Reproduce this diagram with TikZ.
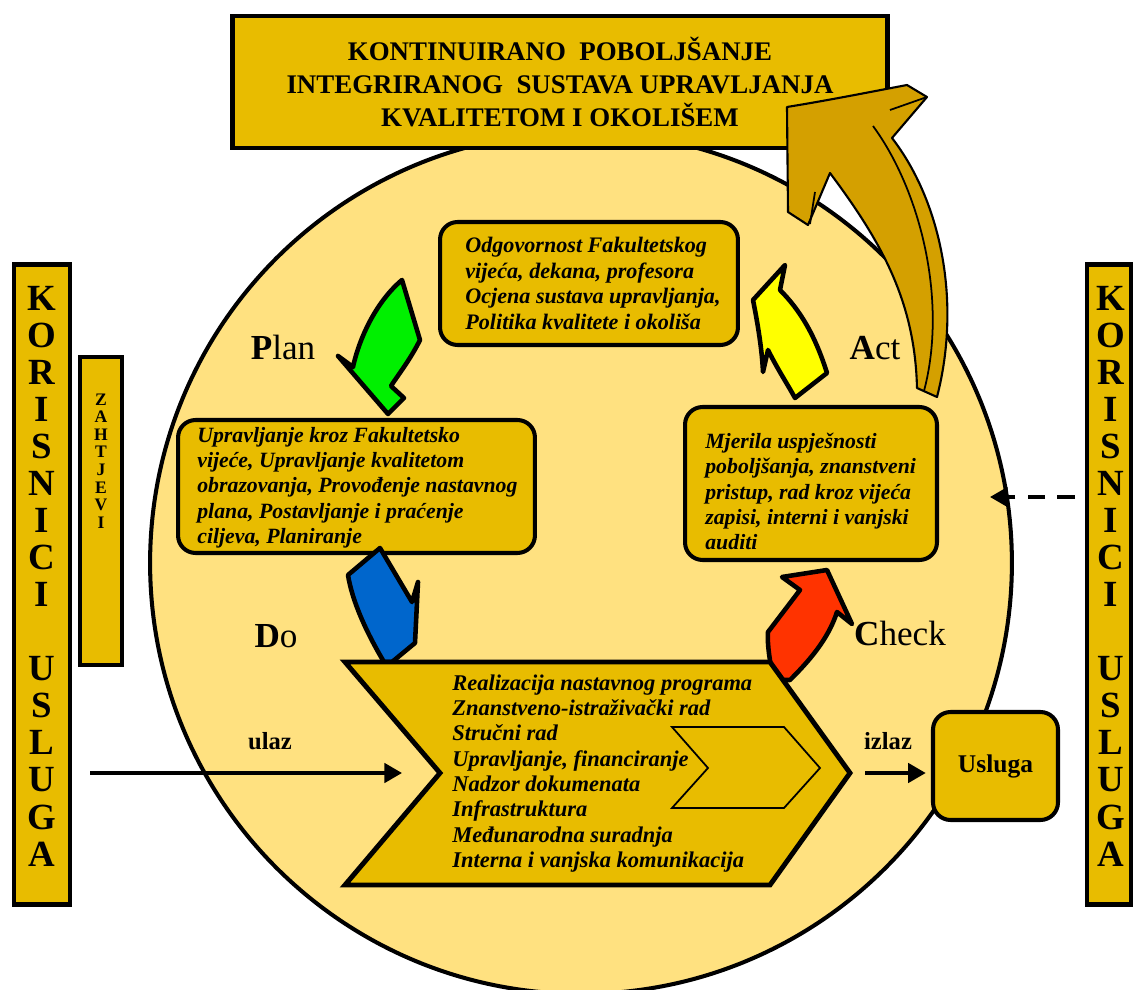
\documentclass[tikz,border=0pt]{standalone}
\usepackage{fontspec}
\setmainfont{Liberation Serif}
\usetikzlibrary{arrows.meta}
\definecolor{gold}{RGB}{232,188,0}
\definecolor{dgold}{RGB}{212,160,0}
\definecolor{circ}{RGB}{255,225,128}
\definecolor{pgreen}{RGB}{0,240,0}
\definecolor{pblue}{RGB}{0,102,204}
\definecolor{pred}{RGB}{255,51,0}
\definecolor{pyellow}{RGB}{255,255,0}
\begin{document}
\begin{tikzpicture}[x=0.02cm,y=-0.02cm,
  gbox/.style={draw=black, fill=gold, line width=2.8pt, inner sep=0pt},
  rbox/.style={draw=black, fill=gold, line width=2.3pt, rounded corners=10pt, inner sep=0pt},
  itxt/.style={font=\fontsize{12.4}{14.4}\selectfont\bfseries\itshape, align=left, inner sep=0pt, anchor=west},
  vtxt/.style={font=\fontsize{21}{21.1}\selectfont\bfseries, align=center, inner sep=0pt},
  pdca/.style={font=\fontsize{20}{24}\selectfont, inner sep=0pt},
  lbl/.style={font=\fontsize{14}{16}\selectfont\bfseries, inner sep=0pt},
  parrow/.style={draw=black, line width=2.6pt, line join=round},
  arr/.style={line width=2pt, -{Triangle[length=10pt,width=11pt]}}]
\useasboundingbox (0,0) rectangle (1134,990);
\clip (0,0) rectangle (1134,990);

% big circle
\node[circle, draw=black, fill=circ, line width=2.3pt, minimum size=17.24cm, inner sep=0pt] (circ) at (581,563) {};

% title box
\node[gbox, minimum width=13.12cm, minimum height=2.64cm,
      font=\fontsize{15.3}{18.7}\selectfont\bfseries, align=center] (title) at (560,82)
  {KONTINUIRANO\ \ POBOLJŠANJE\\INTEGRIRANOG\ \ SUSTAVA UPRAVLJANJA\\KVALITETOM I OKOLIŠEM};

% big gold arrow
\draw[fill=dgold, line width=1.2pt, line join=round]
  (917,388) -- (937,397) .. controls (962,300) and (940,200) .. (892,138)
  -- (927,97) -- (907,85) .. controls (870,92) and (830,100) .. (787,107)
  -- (788,212) -- (808,225) -- (830,173) .. controls (880,240) and (915,300) .. (917,388) -- cycle;
\draw[line width=1pt] (873,126) .. controls (920,190) and (948,300) .. (924,391);
\draw[line width=1pt] (890,110) -- (927,97);
\draw[line width=1pt] (815,192) -- (810,224);

% side boxes
\node[gbox, minimum width=1.12cm, minimum height=12.82cm] (korL) at (42,584.5) {};
\node[vtxt] (korLt) at (42,576) {K\\O\\R\\I\\S\\N\\I\\C\\I\\[21.1pt]U\\S\\L\\U\\G\\A};
\node[gbox, minimum width=0.84cm, minimum height=6.16cm] (zah) at (101,511) {};
\node[font=\fontsize{10}{10}\selectfont\bfseries, align=center, inner sep=0pt] (zaht) at (101,461)
  {Z\\A\\H\\T\\J\\E\\V\\I};
\node[gbox, minimum width=0.88cm, minimum height=12.82cm] (korR) at (1109,584.5) {};
\node[vtxt] (korRt) at (1111,576) {K\\O\\R\\I\\S\\N\\I\\C\\I\\[21.1pt]U\\S\\L\\U\\G\\A};

% rounded boxes
\node[rbox, minimum width=5.96cm, minimum height=2.46cm] (act) at (589,283.5) {};
\node[itxt, font=\fontsize{12.6}{14.7}\selectfont\bfseries\itshape] (actT) at (465,283.5) {Odgovornost Fakultetskog\\vijeća, dekana, profesora\\Ocjena sustava upravljanja,\\Politika kvalitete i okoliša};
\node[rbox, minimum width=7.14cm, minimum height=2.66cm] (plan) at (356.5,486.5) {};
\node[itxt] (planT) at (197,487.5) {Upravljanje kroz Fakultetsko\\vijeće, Upravljanje kvalitetom\\obrazovanja, Provođenje nastavnog\\plana, Postavljanje i praćenje\\ciljeva, Planiranje};
\node[rbox, minimum width=5.04cm, minimum height=3.06cm] (chk) at (811,483.5) {};
\node[itxt] (chkT) at (705,491.5) {Mjerila uspješnosti\\poboljšanja, znanstveni\\pristup, rad kroz vijeća\\zapisi, interni i vanjski\\auditi};

% PDCA arrows
\draw[parrow, fill=pgreen] (402,280) -- (420,340) .. controls (410,360) and (398,375) .. (391,386)
  -- (404,398) -- (388,414) -- (338,356) -- (353,367) .. controls (360,335) and (378,300) .. (402,280) -- cycle;
\draw[parrow, fill=pblue] (380,548) -- (412,602) -- (418,582) -- (415,643) -- (392,662) -- (384,662)
  .. controls (365,630) and (352,600) .. (348,575) -- cycle;
\draw[parrow, fill=pred] (827,570) -- (852,624) -- (837,612) .. controls (828,640) and (808,662) .. (790,680)
  -- (773,680) .. controls (770,660) and (767,645) .. (768,632) -- (800,590) -- (782,577) -- cycle;
\draw[parrow, fill=pyellow] (785,265) -- (753,300) .. controls (758,325) and (762,350) .. (763,372)
  -- (768,350) .. controls (778,370) and (788,385) .. (795,398) -- (827,373)
  .. controls (815,335) and (800,310) .. (780,290) -- cycle;

% Do chevron
\draw[gbox] (345,662) -- (770,662) -- (850,773) -- (770,885) -- (345,885) -- (440,773) -- cycle;
\draw[fill=gold, line width=1pt] (672,727) -- (784,727) -- (820,768) -- (784,808) -- (672,808) -- (708,768) -- cycle;
\node[itxt, font=\fontsize{12.8}{14.4}\selectfont\bfseries\itshape] (doT) at (452,773.5) {Realizacija nastavnog programa\\Znanstveno-istraživački rad\\Stručni rad\\Upravljanje, financiranje\\Nadzor dokumenata\\Infrastruktura\\Međunarodna suradnja\\Interna i vanjska komunikacija};

% PDCA labels
\node[pdca] (lPlan) at (283,347) {\textbf{P}lan};
\node[pdca] (lAct) at (875,348) {\textbf{A}ct};
\node[pdca] (lDo) at (276,636) {\textbf{D}o};
\node[pdca] (lChk) at (900,633) {\textbf{C}heck};

% usluga
\node[rbox, minimum width=2.5cm, minimum height=2.16cm, font=\fontsize{14.5}{16}\selectfont\bfseries] (usl) at (995.5,766) {Usluga};

% in/out arrows
\node[lbl] (ulaz) at (270,741) {ulaz};
\node[lbl] (izlaz) at (888,741) {izlaz};
\coordinate (uS) at (90,773);
\coordinate (uE) at (402,773);
\draw[arr] (uS) -- (uE);
\coordinate (iS) at (865,773);
\draw[arr, shorten >=3pt] (iS) -- (iS -| usl.west);
\coordinate (dS) at (1075,497);
\coordinate (dE) at (990,497);
\draw[arr, dash pattern=on 10pt off 7pt] (dS) -- (dE);
\end{tikzpicture}
\end{document}
